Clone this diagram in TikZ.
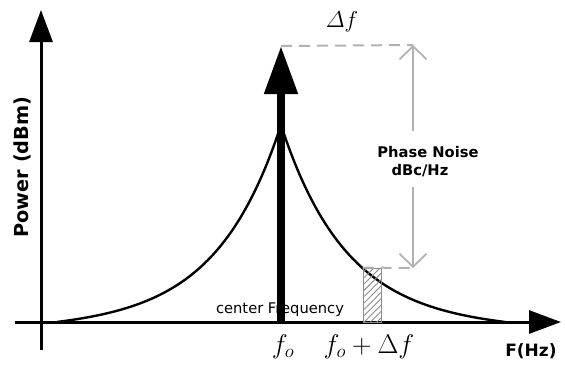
\RequirePackage{fix-cm}
\documentclass[tikz,border=0pt]{standalone}
\usepackage{amsmath}
\usepackage{fontspec}
\setsansfont{DejaVu Sans}
\usetikzlibrary{arrows.meta,patterns.meta}
\tikzset{
  axis/.style={line width=3pt,-{Triangle[length=32pt,width=23pt]}},
  carrier/.style={line width=8pt,-{Triangle[length=48pt,width=32pt]}},
  curve/.style={line width=2.4pt},
  guide/.style={draw=black!30,line width=2pt,dash pattern=on 11pt off 7pt},
  dim/.style={draw=black!30,line width=1.8pt,-{Straight Barb[length=13pt,width=27pt,line width=1.8pt]}},
  hatch/.style={draw=black!45,line width=0.8pt,pattern={Lines[angle=45,distance=4.5pt,line width=0.9pt]},pattern color=black!45},
  boldlab/.style={font=\sffamily\bfseries,inner sep=0pt},
  mathlab/.style={inner sep=0pt}
}
\begin{document}
\begin{tikzpicture}[x=1pt,y=-1pt]
\useasboundingbox (0,0) rectangle (565,368);
% curve
\draw[curve] plot[domain=0:224,samples=120,variable=\d] ({281+\d},{322-197*(exp(-\d/65)-0.0316*\d/224)});
\draw[curve] plot[domain=0:224,samples=120,variable=\d] ({281-\d},{322-197*(exp(-\d/65)-0.0316*\d/224)});
% axes
\coordinate (yb) at (41,350);
\coordinate (yt) at (41,10);
\coordinate (xl) at (15,322);
\coordinate (xr) at (561,322);
\draw[axis] (yb) -- (yt);
\draw[axis] (xl) -- (xr);
% carrier
\coordinate (cb) at (281,322);
\coordinate (ct) at (281,46);
\draw[carrier] (cb) -- (ct);
% hatched slice
\node[hatch,minimum width=18pt,minimum height=54pt,inner sep=0pt] (slice) at (372,295) {};
% guides
\coordinate (gt) at (413,45);
\coordinate (gb) at (413,268);
\coordinate (gu) at (413,131);
\coordinate (gd) at (413,187);
\draw[guide] (ct) -- (gt);
\draw[guide] (slice.north west) -- (gb);
\draw[dim] (gu) -- (gt);
\draw[dim] (gd) -- (gb);
% labels
\node[mathlab,font=\fontsize{23}{25}\selectfont] (df) at (342,22) {$\varDelta f$};
\node[boldlab,font=\fontsize{14.7}{17}\sffamily\bfseries] (pn1) at (428,152) {Phase Noise};
\node[boldlab,font=\fontsize{14.7}{17}\sffamily\bfseries] (pn2) at (420,171) {dBc/Hz};
\node[boldlab,font=\fontsize{19.3}{21}\sffamily\bfseries,rotate=90] (py) at (22,167) {Power (dBm)};
\node[inner sep=0pt,font=\fontsize{14.7}{17}\sffamily] (cf) at (280,310) {center Frequency};
\node[mathlab,font=\fontsize{27}{29}\selectfont] (fo) at (283,347) {$f_o$};
\node[mathlab,font=\fontsize{27}{29}\selectfont] (fod) at (369,347) {$f_o+\Delta f$};
\node[boldlab,font=\fontsize{17}{19}\sffamily\bfseries] (fx) at (531,351) {F(Hz)};
\end{tikzpicture}
\end{document}
